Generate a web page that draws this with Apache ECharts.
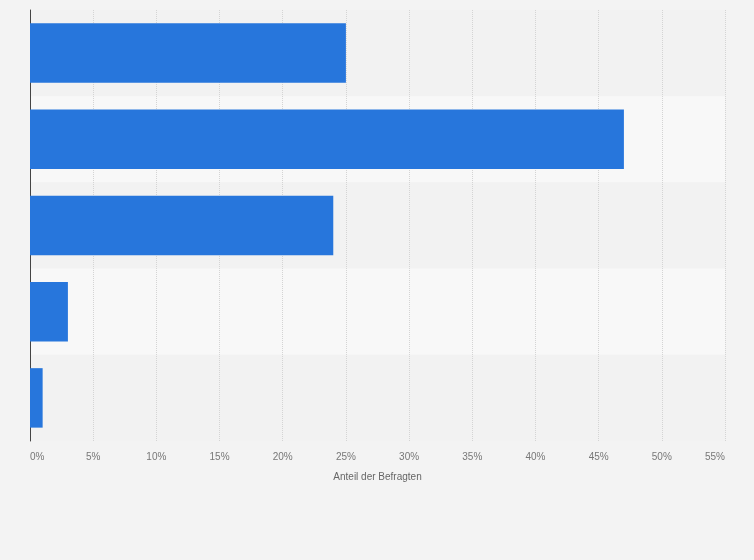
<!DOCTYPE html>
<html>
<head>
<meta charset="utf-8">
<script src="https://cdn.jsdelivr.net/npm/echarts@6/dist/echarts.min.js"></script>
<style>
  html, body { margin: 0; padding: 0; background: #f3f3f3; }
  #chart { width: 754px; height: 560px; }
</style>
</head>
<body>
<div id="chart"></div>
<script>
// Kategorien sind im Bild nicht beschriftet
var categories = ['Kategorie 1', 'Kategorie 2', 'Kategorie 3', 'Kategorie 4', 'Kategorie 5'];
var shares = [25, 47, 24, 3, 1];
var xTicks = [0, 5, 10, 15, 20, 25, 30, 35, 40, 45, 50, 55];

var chart = echarts.init(document.getElementById('chart'));

var option = {
    backgroundColor: '#f3f3f3',
    animation: false,
    grid: { left: 30, right: 29, top: 10, bottom: 119 },
    xAxis: {
        type: 'value',
        min: xTicks[0],
        max: xTicks[xTicks.length - 1],
        interval: 5,
        name: 'Anteil der Befragten',
        nameLocation: 'middle',
        nameGap: 31,
        nameTextStyle: { color: '#666', fontSize: 10, fontFamily: 'Liberation Sans, Arial, sans-serif' },
        axisLine: { show: false },
        axisTick: { show: false },
        axisLabel: {
            color: '#777',
            fontSize: 10,
            fontFamily: 'Liberation Sans, Arial, sans-serif',
            margin: 11,
            alignMinLabel: 'left',
            alignMaxLabel: 'right',
            formatter: function (v) { return v + '%'; }
        },
        splitLine: { show: true, lineStyle: { color: '#d4d4d4', type: 'dotted', width: 1 } }
    },
    yAxis: {
        type: 'category',
        inverse: true,
        data: categories,
        axisLine: { show: true, lineStyle: { color: '#444', width: 1 } },
        axisTick: { show: false },
        axisLabel: { show: false },
        splitArea: { show: true, areaStyle: { color: ['#f2f2f2', '#f8f8f8'] } }
    },
    series: [{
        type: 'bar',
        data: shares,
        barCategoryGap: '31%',
        itemStyle: { color: '#2776dc' }
    }]
};

chart.setOption(option);
</script>
</body>
</html>
